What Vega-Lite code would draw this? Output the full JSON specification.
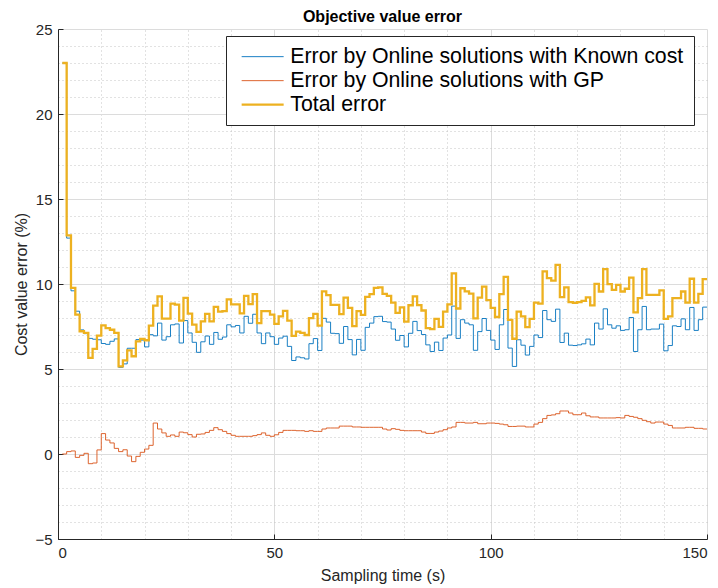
{
  "$schema": "https://vega.github.io/schema/vega-lite/v6.json",
  "width": 649,
  "height": 510,
  "autosize": {"type": "none"},
  "padding": {"left": 58, "top": 29, "right": 11, "bottom": 49},
  "background": "white",
  "title": {"text": "Objective value error", "fontSize": 16, "fontWeight": "bold", "font": "Liberation Sans", "color": "black", "anchor": "middle", "offset": -3},
  "config": {"view": {"stroke": null}, "font": "Liberation Sans"},
  "data": {"values": [
    {"t":1,"K":23.0,"G":0.0,"T":23.0},{"t":2,"K":12.7,"G":0.14,"T":12.86},{"t":3,"K":9.6,"G":0.18,"T":9.77},{"t":4,"K":8.4,"G":-0.2,"T":8.2},{"t":5,"K":7.3,"G":-0.08,"T":7.22},
    {"t":6,"K":7.08,"G":0.04,"T":7.12},{"t":7,"K":6.8,"G":-0.57,"T":5.65},{"t":8,"K":6.75,"G":-0.53,"T":6.18},{"t":9,"K":6.72,"G":0.24,"T":6.96},{"t":10,"K":6.5,"G":1.2,"T":7.57},
    {"t":11,"K":6.45,"G":0.82,"T":7.41},{"t":12,"K":6.63,"G":0.65,"T":7.31},{"t":13,"K":6.77,"G":0.33,"T":7.12},{"t":14,"K":5.1,"G":0.14,"T":5.16},{"t":15,"K":5.3,"G":0.25,"T":5.51},
    {"t":16,"K":6.22,"G":-0.12,"T":6.1},{"t":17,"K":6.22,"G":-0.45,"T":5.75},{"t":18,"K":6.73,"G":-0.14,"T":6.63},{"t":19,"K":6.7,"G":0.1,"T":6.77},{"t":20,"K":6.3,"G":0.29,"T":6.69},
    {"t":21,"K":7.02,"G":0.51,"T":7.55},{"t":22,"K":6.95,"G":1.82,"T":8.73},{"t":23,"K":7.7,"G":1.47,"T":9.27},{"t":24,"K":6.7,"G":1.24,"T":7.96},{"t":25,"K":6.9,"G":1.04,"T":7.96},
    {"t":26,"K":7.6,"G":1.12,"T":8.84},{"t":27,"K":7.65,"G":1.04,"T":8.79},{"t":28,"K":6.53,"G":1.29,"T":7.84},{"t":29,"K":7.85,"G":1.25,"T":9.18},{"t":30,"K":7.12,"G":1.14,"T":8.26},
    {"t":31,"K":6.57,"G":1.0,"T":7.61},{"t":32,"K":5.98,"G":1.16,"T":7.18},{"t":33,"K":6.6,"G":1.18,"T":7.8},{"t":34,"K":6.94,"G":1.27,"T":8.24},{"t":35,"K":6.45,"G":1.39,"T":7.8},
    {"t":36,"K":7.15,"G":1.55,"T":8.66},{"t":37,"K":6.75,"G":1.43,"T":8.38},{"t":38,"K":6.88,"G":1.33,"T":8.41},{"t":39,"K":7.6,"G":1.2,"T":9.09},{"t":40,"K":7.48,"G":1.1,"T":8.8},
    {"t":41,"K":7.56,"G":1.04,"T":8.8},{"t":42,"K":7.12,"G":1.04,"T":8.27},{"t":43,"K":8.1,"G":1.04,"T":9.3},{"t":44,"K":7.69,"G":1.04,"T":8.82},{"t":45,"K":8.22,"G":1.08,"T":9.41},
    {"t":46,"K":7.12,"G":1.14,"T":7.7},{"t":47,"K":6.49,"G":1.24,"T":8.4},{"t":48,"K":7.12,"G":1.1,"T":8.4},{"t":49,"K":6.9,"G":1.04,"T":8.2},{"t":50,"K":6.45,"G":1.13,"T":7.65},
    {"t":51,"K":6.82,"G":1.27,"T":8.1},{"t":52,"K":6.93,"G":1.39,"T":8.42},{"t":53,"K":6.33,"G":1.39,"T":7.84},{"t":54,"K":5.5,"G":1.39,"T":6.95},{"t":55,"K":5.71,"G":1.37,"T":7.2},
    {"t":56,"K":5.66,"G":1.37,"T":7.12},{"t":57,"K":5.59,"G":1.33,"T":7.0},{"t":58,"K":6.49,"G":1.37,"T":7.99},{"t":59,"K":6.79,"G":1.33,"T":8.24},{"t":60,"K":6.09,"G":1.33,"T":7.55},
    {"t":61,"K":7.98,"G":1.47,"T":9.57},{"t":62,"K":7.76,"G":1.53,"T":9.35},{"t":63,"K":7.1,"G":1.53,"T":8.77},{"t":64,"K":7.08,"G":1.53,"T":8.77},{"t":65,"K":6.51,"G":1.64,"T":8.23},
    {"t":66,"K":7.5,"G":1.64,"T":9.2},{"t":67,"K":6.73,"G":1.64,"T":8.6},{"t":68,"K":5.83,"G":1.59,"T":7.52},{"t":69,"K":6.74,"G":1.59,"T":8.41},{"t":70,"K":6.1,"G":1.57,"T":8.18},
    {"t":71,"K":7.45,"G":1.57,"T":9.24},{"t":72,"K":7.7,"G":1.57,"T":9.41},{"t":73,"K":8.08,"G":1.57,"T":9.77},{"t":74,"K":8.1,"G":1.57,"T":9.8},{"t":75,"K":7.79,"G":1.47,"T":9.42},
    {"t":76,"K":7.76,"G":1.41,"T":9.3},{"t":77,"K":7.35,"G":1.49,"T":8.9},{"t":78,"K":6.69,"G":1.45,"T":8.3},{"t":79,"K":6.97,"G":1.39,"T":8.62},{"t":80,"K":6.3,"G":1.37,"T":7.79},
    {"t":81,"K":7.1,"G":1.37,"T":8.75},{"t":82,"K":7.8,"G":1.37,"T":9.27},{"t":83,"K":7.26,"G":1.37,"T":8.76},{"t":84,"K":7.03,"G":1.29,"T":8.44},{"t":85,"K":6.42,"G":1.21,"T":7.4},
    {"t":86,"K":6.03,"G":1.21,"T":7.35},{"t":87,"K":6.58,"G":1.29,"T":7.95},{"t":88,"K":6.09,"G":1.35,"T":7.48},{"t":89,"K":6.82,"G":1.43,"T":8.37},{"t":90,"K":7.0,"G":1.53,"T":8.8},
    {"t":91,"K":8.7,"G":1.59,"T":10.62},{"t":92,"K":6.8,"G":1.86,"T":8.56},{"t":93,"K":7.9,"G":1.86,"T":9.75},{"t":94,"K":7.7,"G":1.82,"T":9.57},{"t":95,"K":7.6,"G":1.82,"T":9.43},
    {"t":96,"K":6.1,"G":1.86,"T":7.98},{"t":97,"K":7.2,"G":1.78,"T":9.2},{"t":98,"K":7.97,"G":1.78,"T":9.85},{"t":99,"K":7.27,"G":1.82,"T":9.05},{"t":100,"K":6.7,"G":1.82,"T":8.6},
    {"t":101,"K":6.15,"G":1.8,"T":8.06},{"t":102,"K":7.6,"G":1.76,"T":9.4},{"t":103,"K":8.5,"G":1.72,"T":10.42},{"t":104,"K":6.23,"G":1.62,"T":7.89},{"t":105,"K":5.15,"G":1.62,"T":6.78},
    {"t":106,"K":6.72,"G":1.64,"T":8.37},{"t":107,"K":6.4,"G":1.64,"T":8.1},{"t":108,"K":5.82,"G":1.59,"T":7.46},{"t":109,"K":6.33,"G":1.59,"T":7.95},{"t":110,"K":7.0,"G":1.76,"T":8.9},
    {"t":111,"K":6.85,"G":1.86,"T":8.85},{"t":112,"K":8.44,"G":2.08,"T":10.74},{"t":113,"K":7.9,"G":2.27,"T":10.35},{"t":114,"K":7.8,"G":2.3,"T":10.2},{"t":115,"K":8.52,"G":2.37,"T":11.13},
    {"t":116,"K":6.56,"G":2.53,"T":9.23},{"t":117,"K":7.11,"G":2.53,"T":9.8},{"t":118,"K":6.4,"G":2.41,"T":8.93},{"t":119,"K":6.38,"G":2.31,"T":8.89},{"t":120,"K":6.42,"G":2.31,"T":8.93},
    {"t":121,"K":6.48,"G":2.41,"T":9.01},{"t":122,"K":6.76,"G":2.25,"T":9.21},{"t":123,"K":6.42,"G":2.18,"T":8.74},{"t":124,"K":7.7,"G":2.18,"T":10.01},{"t":125,"K":7.35,"G":2.12,"T":9.56},
    {"t":126,"K":8.54,"G":2.12,"T":10.87},{"t":127,"K":7.6,"G":2.12,"T":9.99},{"t":128,"K":7.4,"G":2.12,"T":9.66},{"t":129,"K":7.54,"G":2.14,"T":9.95},{"t":130,"K":7.27,"G":2.12,"T":9.56},
    {"t":131,"K":7.31,"G":2.27,"T":9.72},{"t":132,"K":8.03,"G":2.21,"T":10.38},{"t":133,"K":6.03,"G":2.16,"T":8.33},{"t":134,"K":7.31,"G":2.08,"T":9.17},{"t":135,"K":8.68,"G":1.98,"T":10.87},
    {"t":136,"K":7.31,"G":1.9,"T":9.36},{"t":137,"K":7.35,"G":1.82,"T":9.36},{"t":138,"K":7.35,"G":1.88,"T":9.36},{"t":139,"K":7.64,"G":1.88,"T":9.62},{"t":140,"K":6.07,"G":1.76,"T":7.95},
    {"t":141,"K":6.38,"G":1.68,"T":8.09},{"t":142,"K":7.54,"G":1.53,"T":9.17},{"t":143,"K":7.5,"G":1.53,"T":9.17},{"t":144,"K":7.95,"G":1.53,"T":9.56},{"t":145,"K":7.31,"G":1.57,"T":8.91},
    {"t":146,"K":8.62,"G":1.57,"T":10.31},{"t":147,"K":7.27,"G":1.51,"T":8.91},{"t":148,"K":7.9,"G":1.51,"T":9.42},{"t":149,"K":8.64,"G":1.47,"T":10.29},{"t":150,"K":8.64,"G":1.47,"T":10.29}
  ]},
  "transform": [{"fold": ["K", "G", "T"], "as": ["s", "v"]}],
  "layer": [
    {
      "mark": {"type": "line", "opacity": 0},
      "encoding": {
        "x": {"field": "t", "type": "quantitative", "scale": {"domain": [0, 150], "nice": false, "zero": false},
          "axis": {"orient": "top", "values": [10, 20, 30, 40, 60, 70, 80, 90, 110, 120, 130, 140], "grid": true, "gridDash": [1, 3], "gridColor": "#c4c4c4", "gridWidth": 1, "labels": false, "ticks": false, "domain": false, "title": null}},
        "y": {"field": "v", "type": "quantitative", "scale": {"domain": [-5, 25], "nice": false, "zero": false},
          "axis": {"orient": "right", "values": [-4, -3, -2, -1, 1, 2, 3, 4, 6, 7, 8, 9, 11, 12, 13, 14, 16, 17, 18, 19, 21, 22, 23, 24], "grid": true, "gridDash": [1, 3], "gridColor": "#c4c4c4", "gridWidth": 1, "labels": false, "ticks": false, "domain": false, "title": null}},
        "detail": {"field": "s"}
      }
    },
    {
      "mark": {"type": "line", "interpolate": "step-after"},
      "encoding": {
        "x": {"field": "t", "type": "quantitative", "scale": {"domain": [0, 150], "nice": false, "zero": false},
          "axis": {"orient": "bottom", "values": [0, 50, 100, 150], "grid": true, "gridColor": "#dcdcdc", "gridWidth": 1, "tickSize": -5, "tickColor": "#262626", "domainColor": "#262626", "labelPadding": 11, "labelFontSize": 15, "labelColor": "#262626", "labelFont": "Liberation Sans", "title": "Sampling time (s)", "titleFontSize": 16, "titleFontWeight": "normal", "titleColor": "#262626", "titleFont": "Liberation Sans", "titlePadding": 7}},
        "y": {"field": "v", "type": "quantitative", "scale": {"domain": [-5, 25], "nice": false, "zero": false},
          "axis": {"orient": "left", "values": [-5, 0, 5, 10, 15, 20, 25], "grid": true, "gridColor": "#dcdcdc", "gridWidth": 1, "tickSize": -5, "tickColor": "#262626", "domainColor": "#262626", "labelPadding": 11, "labelFontSize": 15, "labelColor": "#262626", "labelFont": "Liberation Sans", "title": "Cost value error (%)", "titleFontSize": 16, "titleFontWeight": "normal", "titleColor": "#262626", "titleFont": "Liberation Sans", "titlePadding": 5}},
        "color": {"field": "s", "type": "nominal", "scale": {"domain": ["K", "G", "T"], "range": ["#0072BD", "#D95319", "#EDB120"]},
          "legend": {"orient": "none", "legendX": 168, "legendY": 7, "title": null, "fillColor": "white", "strokeColor": "#262626", "padding": 10, "labelFontSize": 21.3, "labelFont": "Liberation Sans", "labelColor": "black", "symbolType": "M-1,0H7.4", "symbolSize": 100, "symbolFillColor": "transparent", "rowPadding": 2, "labelOffset": 33, "labelLimit": 600,
            "labelExpr": "datum.label == 'K' ? 'Error by Online solutions with Known cost' : datum.label == 'G' ? 'Error by Online solutions with GP' : 'Total error'"}},
        "strokeWidth": {"field": "s", "type": "nominal", "scale": {"type": "ordinal", "domain": ["K", "G", "T"], "range": [0.9, 0.9, 2.3]}},
        "order": {"field": "t", "type": "quantitative"}
      }
    }
  ],
  "resolve": {"axis": {"x": "independent", "y": "independent"}}
}
